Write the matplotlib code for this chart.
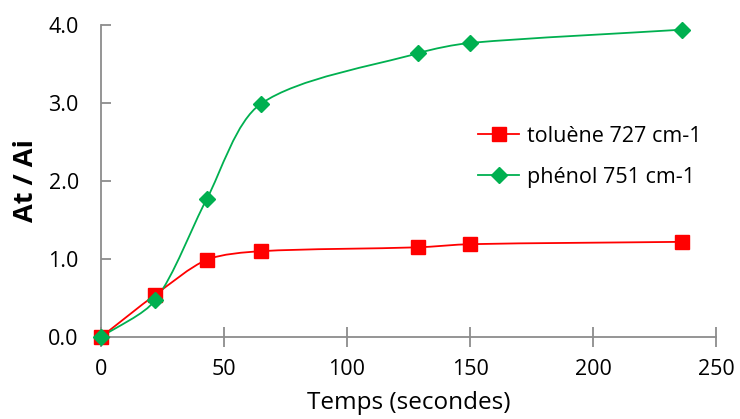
import numpy as np
import matplotlib
matplotlib.use('Agg')
import matplotlib.pyplot as plt
from matplotlib.path import Path
from matplotlib.patches import PathPatch
from matplotlib.lines import Line2D
from matplotlib.transforms import IdentityTransform

plt.rcParams['font.family'] = ['Open Sans', 'DejaVu Sans']

# data
temps = [0, 22, 43, 65, 129, 150, 236]
toluene = [0.0, 0.54, 0.99, 1.10, 1.15, 1.19, 1.22]
phenol = [0.0, 0.47, 1.77, 2.99, 3.64, 3.77, 3.94]
labels = ['toluène 727 cm-1', 'phénol 751 cm-1']
colors = ['#FF0000', '#00B050']
xticks = [0, 50, 100, 150, 200, 250]
yticks = [0.0, 1.0, 2.0, 3.0, 4.0]

fig = plt.figure(figsize=(7.4, 4.19), dpi=100)
ax = fig.add_axes([0.1365, 0.1957, 0.8311, 0.7446])
ax.set_xlim(0, 250)
ax.set_ylim(0, 4)


def smooth_path(x, y, k=0.28):
    # smoothed line like excel: bezier through the points, in pixel space,
    # handle length scaled to segment length so it doesn't overshoot
    pts = ax.transData.transform(np.column_stack([x, y]))
    n = len(pts)
    verts = [pts[0]]
    codes = [Path.MOVETO]

    def handle(i, side):
        p = pts[i]
        if i == 0 or i == n - 1:
            nb = pts[1] if i == 0 else pts[n - 2]
            return p + (nb - p) * k
        t = pts[i + 1] - pts[i - 1]
        t = t / np.linalg.norm(t)
        d = np.linalg.norm(pts[i + side] - p)
        return p + side * t * d * k

    for i in range(n - 1):
        verts += [handle(i, 1), handle(i + 1, -1), pts[i + 1]]
        codes += [Path.CURVE4] * 3
    return Path(verts, codes)


series = [(toluene, 's', 9.5), (phenol, 'D', 8)]
handles = []
for (vals, mk, ms), col, lab in zip(series, colors, labels):
    patch = PathPatch(smooth_path(temps, vals), facecolor='none', edgecolor=col,
                      lw=1.3, transform=IdentityTransform(), zorder=2)
    ax.add_artist(patch)
    ax.plot(temps, vals, linestyle='none', marker=mk, markersize=ms,
            color=col, clip_on=False, zorder=3)
    handles.append(Line2D([], [], color=col, lw=1.3, marker=mk, markersize=ms))

ax.set_xticks(xticks)
ax.set_yticks(yticks)
ax.set_yticklabels(['%.1f' % v for v in yticks])
for sp in ['top', 'right']:
    ax.spines[sp].set_visible(False)
for sp in ['left', 'bottom']:
    ax.spines[sp].set_color('#8C8C8C')
    ax.spines[sp].set_linewidth(1.3)
ax.tick_params(axis='x', direction='inout', length=14, width=1.3, color='#8C8C8C',
               labelsize=15.5, pad=9)
ax.tick_params(axis='y', direction='in', length=7, width=1.3, color='#8C8C8C',
               labelsize=15.5, pad=16)

ax.set_xlabel('Temps (secondes)', fontsize=17.5, labelpad=8)
ax.set_ylabel('At / Ai', fontsize=19.5, fontweight='bold', labelpad=7)

ax.legend(handles, labels, loc='upper left', bbox_to_anchor=(0.582, 0.74),
          frameon=False, fontsize=15.5, handlelength=1.9, labelspacing=0.95,
          handletextpad=0.35)

fig.savefig('out.png', dpi=100)
